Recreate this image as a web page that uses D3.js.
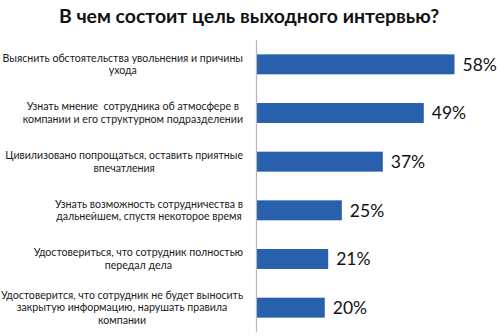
<!DOCTYPE html>
<html>
<head>
<meta charset="utf-8">
<script src="https://cdn.jsdelivr.net/npm/d3@7"></script>
<style>
  html, body { margin: 0; padding: 0; background: #fff; }
  svg { display: block; }
</style>
</head>
<body>
<svg id="chart" width="500" height="336"></svg>
<script>
const title = "В чем состоит цель выходного интервью?";

// Each category is split into the lines it is printed on
const categories = [
  ["Выяснить обстоятельства увольнения и причины", "ухода"],
  ["Узнать мнение  сотрудника об атмосфере в", "компании и его структурном подразделении"],
  ["Цивилизовано попрощаться, оставить приятные", "впечатления"],
  ["Узнать возможность сотрудничества в", "дальнейшем, спустя некоторое время"],
  ["Удостовериться, что сотрудник полностью", "передал дела"],
  ["Удостоверится, что сотрудник не будет выносить", "закрытую информацию, нарушать правила", "компании"]
];
const values = [58, 49, 37, 25, 21, 20];

const axisX = 256.5, plotTop = 40, plotBottom = 332;
const labelRight = 243;
const lineH = 12.7;

const svg = d3.select("#chart");

svg.append("text")
  .attr("x", 249)
  .attr("y", 23)
  .attr("text-anchor", "middle")
  .attr("font-family", "Lato, 'Open Sans', sans-serif")
  .attr("font-weight", "bold")
  .attr("font-size", 19.4)
  .attr("fill", "#111")
  .text(title);

const idx = d3.range(values.length);
const y = d3.scaleBand().domain(idx).range([plotTop, plotBottom]).paddingInner(0.59).paddingOuter(0.295);
const x = d3.scaleLinear().domain([0, 58]).range([axisX, axisX + 198]);

// Bars
svg.append("g").selectAll("rect")
  .data(idx)
  .join("rect")
  .attr("x", x(0))
  .attr("y", i => y(i))
  .attr("width", i => x(values[i]) - x(0))
  .attr("height", y.bandwidth())
  .attr("fill", "#2860ae");

// Value labels
svg.append("g").selectAll("text")
  .data(idx)
  .join("text")
  .attr("x", i => x(values[i]) + 8)
  .attr("y", i => y(i) + y.bandwidth() / 2)
  .attr("dy", "0.36em")
  .attr("font-family", "Lato, 'Open Sans', sans-serif")
  .attr("font-size", 17.5)
  .attr("fill", "#111")
  .text(i => values[i] + "%");

// Category axis line
svg.append("line")
  .attr("x1", axisX).attr("x2", axisX)
  .attr("y1", plotTop).attr("y2", plotBottom)
  .attr("stroke", "#b8b8b8")
  .attr("stroke-width", 1.2);

// Category labels: lines centred on the widest line, block right-aligned to the axis
const lg = svg.append("g")
  .attr("font-family", "Lato, 'Open Sans', sans-serif")
  .attr("font-size", 10.6)
  .attr("fill", "#1a1a1a");

idx.forEach(i => {
  const lines = categories[i];
  const cy = y(i) + y.bandwidth() / 2;
  const g = lg.append("g");
  const texts = lines.map((ln, k) => g.append("text")
    .attr("y", cy + (k - (lines.length - 1) / 2) * lineH)
    .attr("dy", "0.35em")
    .attr("text-anchor", "middle")
    .attr("xml:space", "preserve")
    .text(ln));
  const w = d3.max(texts, t => t.node().getComputedTextLength());
  texts.forEach(t => t.attr("x", labelRight - w / 2));
});
</script>
</body>
</html>
